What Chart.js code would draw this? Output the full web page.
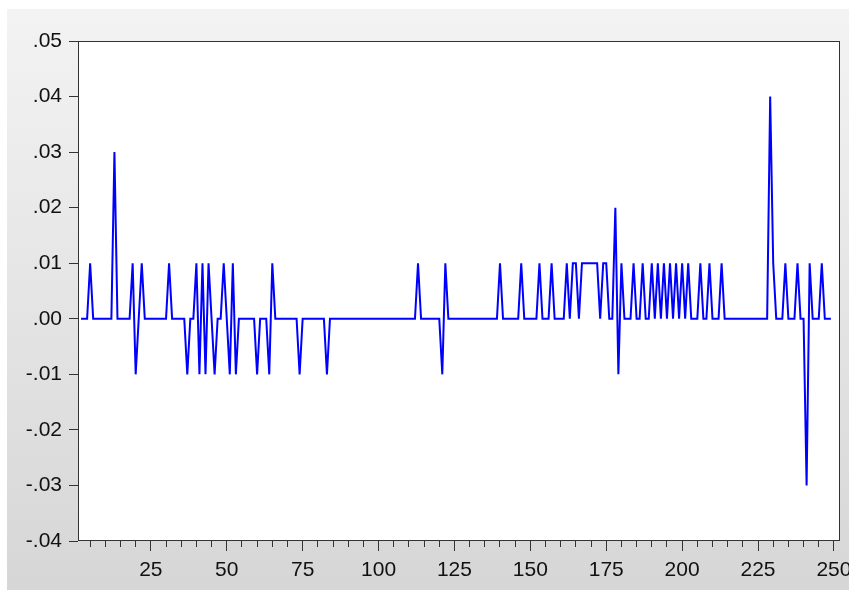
<!DOCTYPE html>
<html>
<head>
<meta charset="utf-8">
<script src="https://cdn.jsdelivr.net/npm/chart.js@4/dist/chart.umd.min.js"></script>
<style>
  html, body { margin: 0; padding: 0; background: #ffffff; }
  canvas { display: block; }
</style>
</head>
<body>
<canvas id="returnsChart" width="849" height="590"></canvas>
<script>
// Observações 1..252; a série começa na obs. 2 (primeira diferença)
const obsMin = 1;
const obsMax = 252;
const firstObs = 2;

// Valores da série, a partir da obs. 2
const seriesValues = [
  0, 0, 0, 0.01, 0, 0, 0, 0,                                   // 2-9
  0, 0, 0, 0.03, 0, 0, 0, 0, 0, 0.01,                          // 10-19
  -0.01, 0, 0.01, 0, 0, 0, 0, 0, 0, 0,                         // 20-29
  0, 0.01, 0, 0, 0, 0, 0, -0.01, 0, 0,                         // 30-39
  0.01, -0.01, 0.01, -0.01, 0.01, 0, -0.01, 0, 0, 0.01,        // 40-49
  0, -0.01, 0.01, -0.01, 0, 0, 0, 0, 0, 0,                     // 50-59
  -0.01, 0, 0, 0, -0.01, 0.01, 0, 0, 0, 0,                     // 60-69
  0, 0, 0, 0, -0.01, 0, 0, 0, 0, 0,                            // 70-79
  0, 0, 0, -0.01, 0, 0, 0, 0, 0, 0,                            // 80-89
  0, 0, 0, 0, 0, 0, 0, 0, 0, 0,                                // 90-99
  0, 0, 0, 0, 0, 0, 0, 0, 0, 0,                                // 100-109
  0, 0, 0, 0.01, 0, 0, 0, 0, 0, 0,                             // 110-119
  0, -0.01, 0.01, 0, 0, 0, 0, 0, 0, 0,                         // 120-129
  0, 0, 0, 0, 0, 0, 0, 0, 0, 0,                                // 130-139
  0.01, 0, 0, 0, 0, 0, 0, 0.01, 0, 0,                          // 140-149
  0, 0, 0, 0.01, 0, 0, 0, 0.01, 0, 0,                          // 150-159
  0, 0, 0.01, 0, 0.01, 0.01, 0, 0.01, 0.01, 0.01,              // 160-169
  0.01, 0.01, 0.01, 0, 0.01, 0.01, 0, 0, 0.02, -0.01,          // 170-179
  0.01, 0, 0, 0, 0.01, 0, 0, 0.01, 0, 0,                       // 180-189
  0.01, 0, 0.01, 0, 0.01, 0, 0.01, 0, 0.01, 0,                 // 190-199
  0.01, 0, 0.01, 0, 0, 0, 0.01, 0, 0, 0.01,                    // 200-209
  0, 0, 0, 0.01, 0, 0, 0, 0, 0, 0,                             // 210-219
  0, 0, 0, 0, 0, 0, 0, 0, 0, 0.04,                             // 220-229
  0.01, 0, 0, 0, 0.01, 0, 0, 0, 0.01, 0,                       // 230-239
  0, -0.03, 0.01, 0, 0, 0, 0.01, 0, 0, 0                       // 240-249
];

// Eixos
const yMin = -0.04;
const yMax = 0.05;
const yStep = 0.01;
const xMinorStep = 5;
const xMajorStep = 25;

const points = seriesValues.map((v, i) => ({ x: firstObs + i, y: v }));

// Fundo degradê cinza + área do gráfico branca com moldura
const plotFrame = {
  id: 'plotFrame',
  beforeDraw(chart) {
    const { ctx, width, height, chartArea: a } = chart;
    ctx.save();
    ctx.fillStyle = '#ffffff';
    ctx.fillRect(0, 0, width, height);
    const g = ctx.createLinearGradient(0, 9, 0, height);
    g.addColorStop(0, '#f3f3f3');
    g.addColorStop(1, '#d6d6d6');
    ctx.fillStyle = g;
    ctx.fillRect(7, 9, width - 7, height - 9);
    ctx.fillStyle = '#ffffff';
    ctx.fillRect(a.left, a.top, a.right - a.left, a.bottom - a.top);
    ctx.restore();
  },
  afterDraw(chart) {
    const { ctx, chartArea: a } = chart;
    ctx.save();
    ctx.strokeStyle = '#333333';
    ctx.lineWidth = 1;
    ctx.strokeRect(a.left + 0.5, a.top + 0.5, a.right - a.left - 1, a.bottom - a.top - 1);
    ctx.restore();
  }
};

const tickFont = { family: '"Liberation Sans", Arial, sans-serif', size: 21 };

new Chart(document.getElementById('returnsChart'), {
  type: 'line',
  data: {
    datasets: [{
      data: points,
      borderColor: '#0000ff',
      borderWidth: 2,
      pointRadius: 0,
      tension: 0,
      fill: false
    }]
  },
  options: {
    responsive: false,
    animation: false,
    events: [],
    layout: { padding: { top: 41, right: 9, left: 0, bottom: 0 } },
    plugins: {
      legend: { display: false },
      tooltip: { enabled: false }
    },
    scales: {
      x: {
        type: 'linear',
        min: obsMin,
        max: obsMax,
        afterFit: (scale) => {
          scale.height = 49;
          // o rótulo "250" pode passar da borda sem encolher a área
          scale.paddingLeft = 0;
          scale.paddingRight = 0;
        },
        afterBuildTicks: (scale) => {
          const ticks = [];
          for (let v = xMinorStep; v <= obsMax; v += xMinorStep) ticks.push({ value: v });
          scale.ticks = ticks;
        },
        border: { display: false },
        grid: {
          drawOnChartArea: false,
          tickLength: 10,
          tickColor: '#333333',
          tickWidth: 1,
          // traço curto nas marcas menores
          tickBorderDash: (ctx) => (ctx.tick && ctx.tick.value % xMajorStep === 0) ? [] : [6, 30]
        },
        ticks: {
          autoSkip: false,
          maxRotation: 0,
          padding: 7,
          color: '#111111',
          font: tickFont,
          callback: (v) => (v % xMajorStep === 0 ? String(v) : '')
        }
      },
      y: {
        min: yMin,
        max: yMax,
        afterFit: (scale) => { scale.width = 78; },
        border: { display: false },
        grid: {
          drawOnChartArea: false,
          tickLength: 9,
          tickColor: '#333333',
          tickWidth: 1
        },
        ticks: {
          stepSize: yStep,
          padding: 7,
          color: '#111111',
          font: tickFont,
          callback: (v) => {
            if (Math.abs(v) < 1e-9) return '.00';
            return v.toFixed(2).replace('0.', '.');
          }
        }
      }
    }
  },
  plugins: [plotFrame]
});
</script>
</body>
</html>
